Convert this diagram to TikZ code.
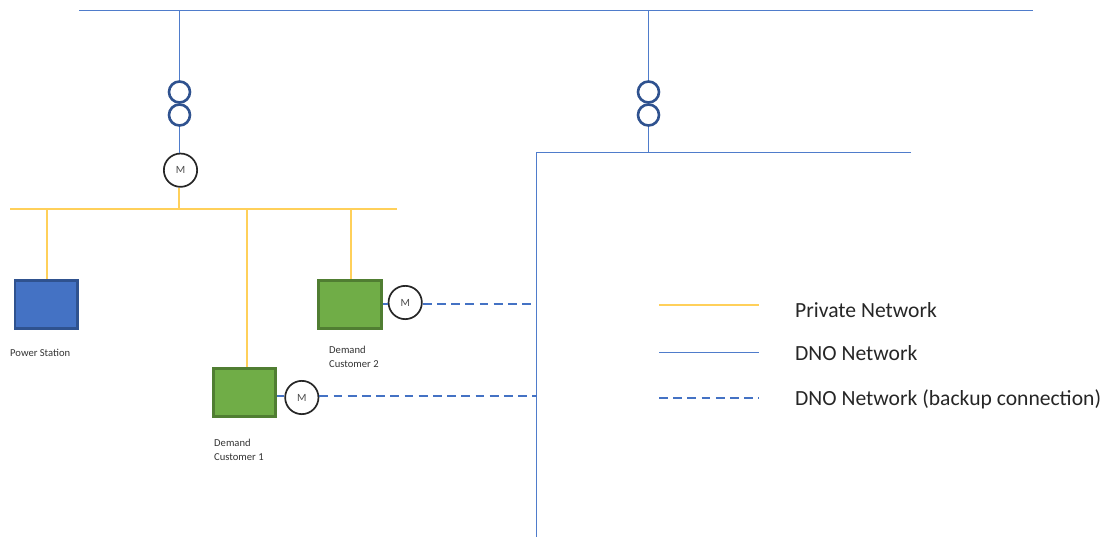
\documentclass[tikz,border=0pt]{standalone}
\usepackage{xcolor}
\usepackage{fontspec}
\setmainfont{Carlito}
\definecolor{privline}{HTML}{FFD05A}
\definecolor{dnoline}{HTML}{4F7CCB}
\definecolor{dnodash}{HTML}{4472C4}
\definecolor{trafoblue}{HTML}{2F528F}
\definecolor{stationblue}{HTML}{4472C4}
\definecolor{stationedge}{HTML}{2F528F}
\definecolor{customergreen}{HTML}{70AD47}
\definecolor{customeredge}{HTML}{507E32}
\tikzset{
  private/.style={draw=privline, line width=1.4pt},
  dno/.style={draw=dnoline, line width=1pt},
  backup/.style={draw=dnodash, line width=2pt, dash pattern=on 8.8pt off 5.4pt},
  feed/.style={draw=dnodash, line width=2pt},
  trafo/.style={circle, draw=trafoblue, line width=2.6pt, fill=none, inner sep=0pt, minimum size=21pt},
  meter/.style={circle, draw=black!85, line width=1.7pt, fill=white, inner sep=0pt, minimum size=33.3pt, text=black!70, font=\fontsize{11}{11}\selectfont},
  site/.style={rectangle, line width=2.8pt, inner sep=0pt, minimum width=62.5pt, minimum height=48.5pt},
  station/.style={site, draw=stationedge, fill=stationblue},
  customer/.style={site, draw=customeredge, fill=customergreen},
  small/.style={align=left, anchor=north west, inner sep=0pt, text=black!80, font=\fontsize{10.6}{14}\selectfont},
  legend/.style={anchor=base west, inner sep=0pt, text=black!85, font=\fontsize{21.6}{24}\selectfont}
}
\begin{document}
\begin{tikzpicture}[x=1pt, y=-1pt]
  \useasboundingbox (0,0) rectangle (1110,537);

  % Busbars and their end points
  \coordinate (topW) at (79,10.5);
  \coordinate (topE) at (1033,10.5);
  \coordinate (topA) at (179.5,10.5);
  \coordinate (topB) at (648.5,10.5);
  \coordinate (privW) at (10,209);
  \coordinate (privE) at (397,209);
  \coordinate (dnoN) at (536.5,152.5);
  \coordinate (dnoE) at (911,152.5);
  \coordinate (dnoS) at (536.5,537);
  \coordinate (dnoB) at (648.5,152.5);

  % Transformers
  \node[trafo] (trafoA1) at (179.5,92) {};
  \node[trafo] (trafoA2) at (179.5,115) {};
  \node[trafo] (trafoB1) at (648.5,92) {};
  \node[trafo] (trafoB2) at (648.5,115) {};

  % Sites and meters
  \node[meter] (meterMain) at (180.5,170.2) {M};
  \node[station] (power) at (46.3,304.5) {};
  \node[customer] (custTwo) at (350,304.5) {};
  \node[customer] (custOne) at (244.5,392.5) {};
  \node[meter] (meterTwo) at (405.2,302.5) {M};
  \node[meter] (meterOne) at (301.8,397.5) {M};

  % Tap points on the private bus
  \coordinate (tapMain) at (179,209);
  \coordinate (tapPower) at (47,209);
  \coordinate (tapOne) at (247,209);
  \coordinate (tapTwo) at (351,209);

  % Ends of the backup lines
  \coordinate (endTwo) at (531,304.3);
  \coordinate (endOne) at (537,396.3);

  % DNO network
  \draw[dno] (topW) -- (topE);
  \draw[dno] (topA) -- (trafoA1.north);
  \draw[dno] (trafoA2.south) -- (meterMain.north -| trafoA2.south);
  \draw[dno] (topB) -- (trafoB1.north);
  \draw[dno] (trafoB2.south) -- (dnoB);
  \draw[dno] (dnoE) -- (dnoN) -- (dnoS);

  % Private network
  \draw[private] (privW) -- (privE);
  \draw[private] (meterMain.south -| tapMain) -- (tapMain);
  \draw[private] (tapPower) -- (tapPower |- power.north);
  \draw[private] (tapOne) -- (tapOne |- custOne.north);
  \draw[private] (tapTwo) -- (tapTwo |- custTwo.north);

  % Backup connections
  \draw[feed] (custTwo.east |- endTwo) -- (meterTwo.west |- endTwo);
  \draw[feed] (custOne.east |- endOne) -- (meterOne.west |- endOne);
  \draw[backup] (meterTwo.east |- endTwo) -- (endTwo);
  \draw[backup] (meterOne.east |- endOne) -- (endOne);

  % Site labels
  \node[small] (powerText) at (10,348.5) {Power Station};
  \node[small] (twoText) at (329,346) {Demand\\Customer 2};
  \node[small] (oneText) at (214,438.5) {Demand\\Customer 1};

  % Legend
  \coordinate (keyPrivW) at (659,305);
  \coordinate (keyPrivE) at (759,305);
  \coordinate (keyDnoW) at (659,352);
  \coordinate (keyDnoE) at (759,352);
  \coordinate (keyBackW) at (659,398);
  \coordinate (keyBackE) at (759,398);
  \draw[private] (keyPrivW) -- (keyPrivE);
  \draw[dno] (keyDnoW) -- (keyDnoE);
  \draw[backup] (keyBackW) -- (keyBackE);
  \node[legend] (keyPriv) at (795,317) {Private Network};
  \node[legend] (keyDno) at (795,360.3) {DNO Network};
  \node[legend] (keyBack) at (795,405) {DNO Network (backup connection)};
\end{tikzpicture}
\end{document}
